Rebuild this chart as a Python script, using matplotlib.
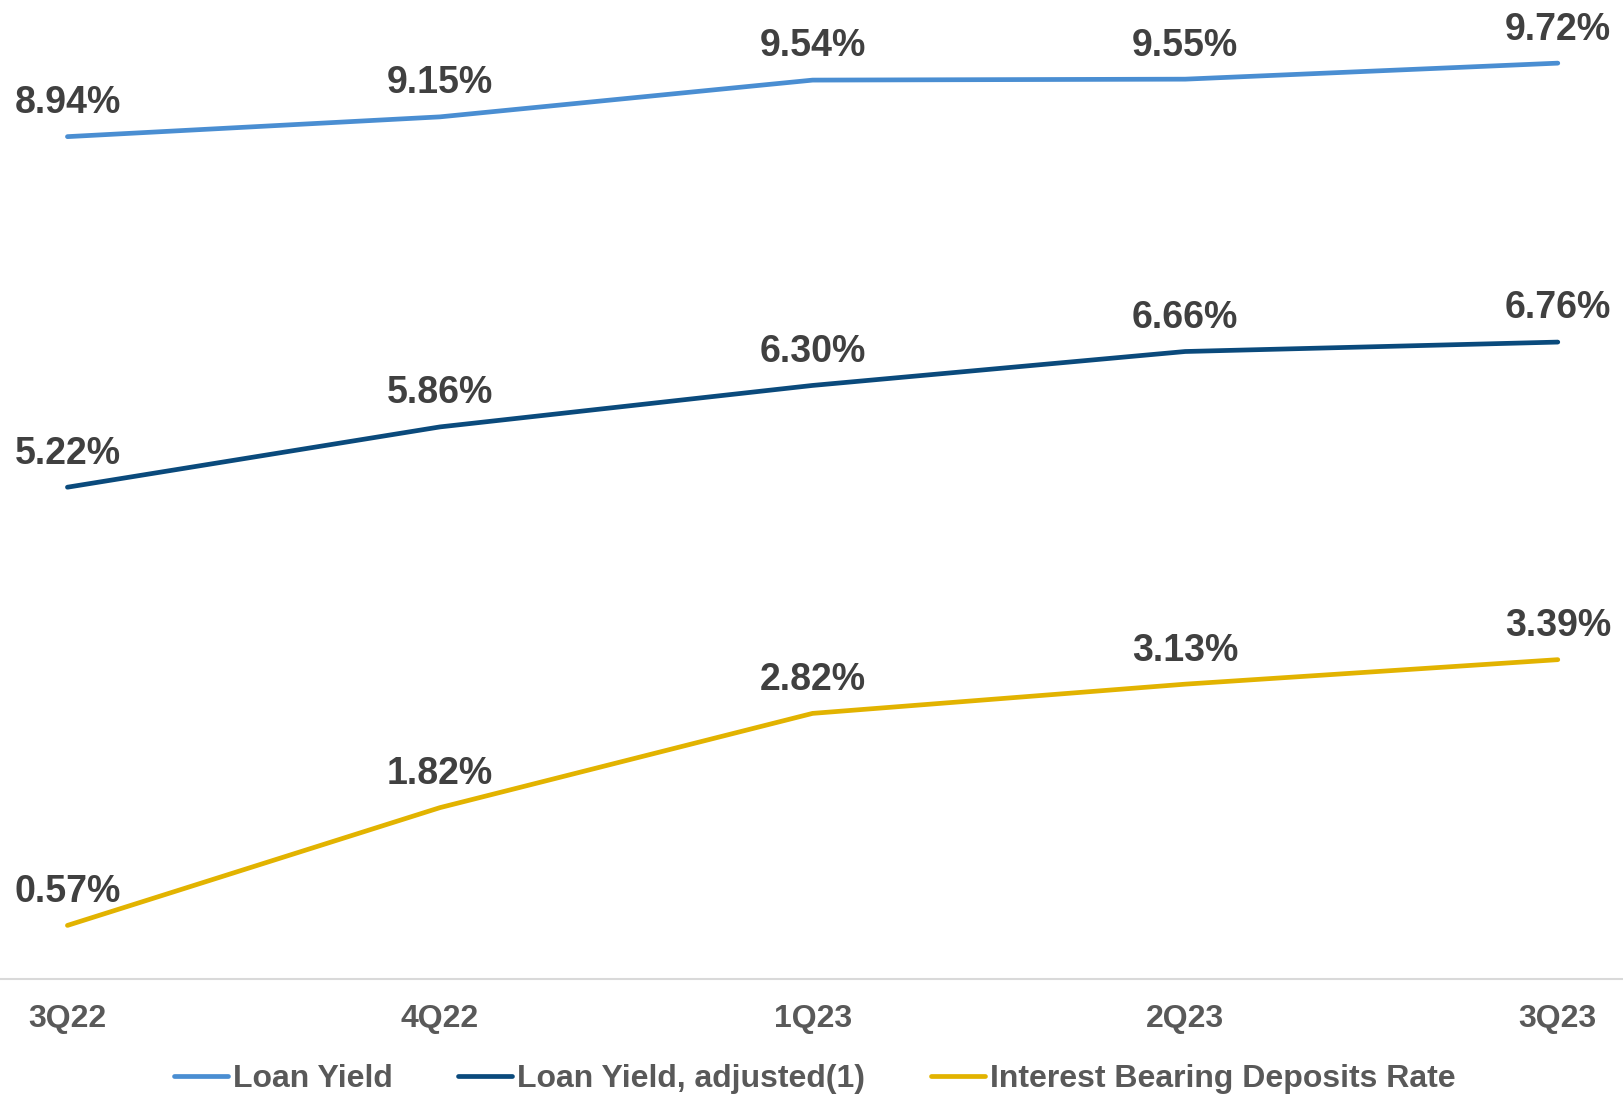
import matplotlib.pyplot as plt
from matplotlib.lines import Line2D

plt.rcParams['font.family'] = ['Liberation Sans', 'DejaVu Sans']

# chart data
quarters = ['3Q22', '4Q22', '1Q23', '2Q23', '3Q23']
loan_yield = [8.94, 9.15, 9.54, 9.55, 9.72]
loan_yield_adj = [5.22, 5.86, 6.30, 6.66, 6.76]
deposit_rate = [0.57, 1.82, 2.82, 3.13, 3.39]

series = [
    ('Loan Yield', loan_yield, '#4A8ED2'),
    ('Loan Yield, adjusted(1)', loan_yield_adj, '#0A4A7C'),
    ('Interest Bearing Deposits Rate', deposit_rate, '#E2B300'),
]

fig = plt.figure(figsize=(16.23, 10.94), dpi=100)
ax = fig.add_axes([0, 0.105, 1, 0.895])

x = list(range(len(quarters)))
handles = []
for name, vals, color in series:
    ax.plot(x, vals, color=color, lw=3.4, solid_capstyle='round')
    for xi, v in zip(x, vals):
        ax.annotate(f'{v:.2f}%', (xi, v), xytext=(0, 17), textcoords='offset points',
                    ha='center', va='baseline', fontsize=27, fontweight='bold',
                    color='#404040')
    handles.append(Line2D([], [], color=color, lw=3.4, solid_capstyle='round', label=name))

ax.set_xlim(-0.181, 4.175)
ax.set_ylim(0, 10.39)
ax.set_xticks(x)
ax.set_xticklabels(quarters, fontsize=23, fontweight='bold', color='#595959')
ax.tick_params(axis='x', length=0, pad=18)
ax.set_yticks([])
for s in ['top', 'right', 'left']:
    ax.spines[s].set_visible(False)
ax.spines['bottom'].set_color('#D9D9D9')
ax.spines['bottom'].set_linewidth(1.5)
ax.patch.set_alpha(0)

leg = fig.legend(handles=handles, loc='center', bbox_to_anchor=(0.502, 0.0135), ncol=3,
                 frameon=False, handlelength=1.69, handletextpad=0.16, columnspacing=2.04,
                 borderpad=0, prop={'size': 23, 'weight': 'bold'})
for t in leg.get_texts():
    t.set_color('#595959')

fig.savefig('out.png', dpi=100)
